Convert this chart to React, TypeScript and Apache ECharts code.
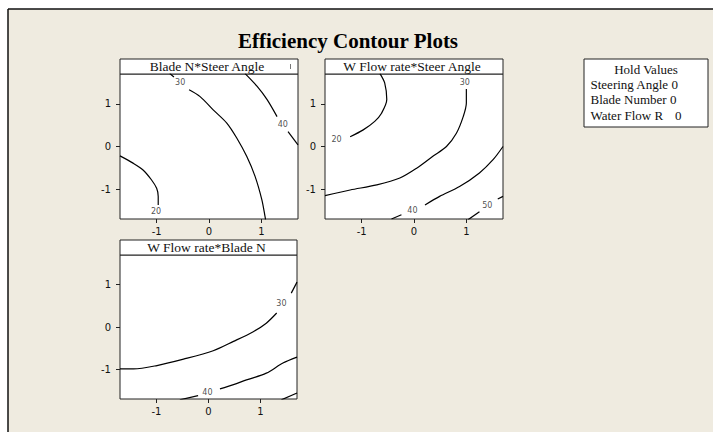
import React, { useEffect, useRef } from "react";
import * as echarts from "echarts";

// ---- Data (coded factor levels) ----
const tickValues = [-1, 0, 1];
const axisMin = -1.7;
const axisMax = 1.7;

const panelTitles = ["Blade N*Steer Angle", "W Flow rate*Steer Angle", "W Flow rate*Blade N"];

// Panel 1: Blade N (y) vs Steer Angle (x)
const p1Contour20 = [[-1.7, -0.22], [-1.45, -0.39], [-1.26, -0.55], [-1.1, -0.78], [-1.0, -0.98], [-0.97, -1.17], [-0.97, -1.37]];
const p1Contour30a = [[-0.75, 1.71], [-0.67, 1.63]];
const p1Contour30b = [[-0.38, 1.33], [-0.17, 1.17], [0.08, 0.86], [0.34, 0.55], [0.53, 0.2], [0.72, -0.23], [0.88, -0.7], [1.01, -1.25], [1.07, -1.64], [1.08, -1.72]];
const p1Contour40a = [[0.69, 1.71], [0.92, 1.41], [1.11, 1.1], [1.3, 0.7]];
const p1Contour40b = [[1.51, 0.35], [1.7, 0.04]];
const p1Labels: [string, number, number][] = [["20", -1.01, -1.53], ["30", -0.55, 1.49], ["40", 1.41, 0.51]];

// Panel 2: W Flow rate (y) vs Steer Angle (x)
const p2Contour20 = [[-0.65, 1.71], [-0.56, 1.49], [-0.52, 1.1], [-0.62, 0.78], [-0.75, 0.59], [-0.97, 0.39], [-1.22, 0.23]];
const p2Contour30 = [[1.0, 1.35], [1.0, 1.02], [0.94, 0.7], [0.81, 0.31], [0.62, 0.0], [0.36, -0.23], [0.05, -0.51], [-0.27, -0.74], [-0.71, -0.9], [-1.22, -1.02], [-1.7, -1.15]];
const p2Contour40a = [[1.7, 0.0], [1.51, -0.31], [1.25, -0.62], [0.87, -0.94], [0.49, -1.17], [0.21, -1.37]];
const p2Contour40b = [[-0.24, -1.6], [-0.43, -1.7]];
const p2Contour50a = [[1.7, -1.17], [1.6, -1.23]];
const p2Contour50b = [[1.25, -1.53], [1.03, -1.72]];
const p2Labels: [string, number, number][] = [["20", -1.48, 0.17], ["30", 0.97, 1.51], ["40", -0.03, -1.51], ["50", 1.4, -1.38]];

// Panel 3: W Flow rate (y) vs Blade N (x)
const p3Contour30a = [[1.7, 1.06], [1.59, 0.8]];
const p3Contour30b = [[1.31, 0.33], [1.11, 0.09], [0.86, -0.11], [0.48, -0.34], [0.09, -0.56], [-0.48, -0.76], [-0.99, -0.91], [-1.44, -0.99], [-1.7, -0.99]];
const p3Contour40a = [[1.7, -0.71], [1.43, -0.85], [1.11, -1.09], [0.73, -1.25], [0.48, -1.36], [0.22, -1.46]];
const p3Contour40b = [[-0.2, -1.62], [-0.55, -1.72]];
const p3Contour50 = [[1.7, -1.56], [1.4, -1.72]];
const p3Labels: [string, number, number][] = [["30", 1.4, 0.55], ["40", -0.02, -1.54]];

const holdTitle = "Hold Values";
const holdLines = ["Steering Angle 0", "Blade Number 0", "Water Flow R"];
const holdLastValue = "0";

const panelSegments = [
  [p1Contour20, p1Contour30a, p1Contour30b, p1Contour40a, p1Contour40b],
  [p2Contour20, p2Contour30, p2Contour40a, p2Contour40b, p2Contour50a, p2Contour50b],
  [p3Contour30a, p3Contour30b, p3Contour40a, p3Contour40b, p3Contour50],
];
const panelLabels = [p1Labels, p2Labels, p3Labels];

// ---- Layout ----
const grids = [
  { left: 120, top: 74, width: 178, height: 145 },
  { left: 325, top: 74, width: 178, height: 145 },
  { left: 120, top: 255, width: 177, height: 144 },
];
const HEADER_H = 15;
const SERIF = "'Liberation Serif', 'Times New Roman', serif";
const SANS = "'DejaVu Sans', Verdana, sans-serif";

export default function App() {
  const ref = useRef<HTMLDivElement>(null);

  useEffect(() => {
    if (!ref.current) return;
    const chart = echarts.init(ref.current, undefined, { renderer: "svg" });

    const axisCommon = {
      type: "value",
      min: axisMin,
      max: axisMax,
      splitLine: { show: false },
      axisLine: { show: false, onZero: false },
      axisTick: { show: true, length: 4, customValues: tickValues, lineStyle: { color: "#222", width: 1 } },
    };

    const xAxes = grids.map((_, i) => ({
      ...axisCommon,
      gridIndex: i,
      position: "bottom",
      axisLabel: { customValues: tickValues, margin: 7, fontFamily: SANS, fontSize: 10, color: "#111" },
    }));
    const yAxes = grids.map((_, i) => ({
      ...axisCommon,
      gridIndex: i,
      position: "left",
      axisLabel: { customValues: tickValues, margin: 9, fontFamily: SANS, fontSize: 10, color: "#111" },
    }));

    const series: any[] = [];
    panelSegments.forEach((segs, i) => {
      segs.forEach((seg) => {
        series.push({
          type: "line",
          xAxisIndex: i,
          yAxisIndex: i,
          data: seg,
          smooth: 0.3,
          symbol: "none",
          clip: true,
          silent: true,
          lineStyle: { color: "#000", width: 1.2 },
        });
      });
      series.push({
        type: "scatter",
        xAxisIndex: i,
        yAxisIndex: i,
        symbolSize: 1,
        itemStyle: { color: "rgba(0,0,0,0)" },
        silent: true,
        data: panelLabels[i].map(([n, x, y]) => ({ name: n, value: [x, y] })),
        label: {
          show: true,
          position: "inside",
          formatter: "{b}",
          fontFamily: SANS,
          fontSize: 8,
          color: "#222",
        },
      });
    });

    const graphics: any[] = [
      { type: "rect", shape: { x: 0, y: 0, width: 713, height: 9 }, style: { fill: "#fff" }, silent: true },
      { type: "rect", shape: { x: 0, y: 0, width: 8, height: 432 }, style: { fill: "#fff" }, silent: true },
      { type: "line", shape: { x1: 8, y1: 9, x2: 713, y2: 9 }, style: { stroke: "#111", lineWidth: 1.5 }, silent: true },
      { type: "line", shape: { x1: 8, y1: 9, x2: 8, y2: 432 }, style: { stroke: "#111", lineWidth: 1.5 }, silent: true },
      {
        type: "text",
        x: 348,
        y: 41,
        style: {
          text: "Efficiency Contour Plots",
          fontFamily: SERIF,
          fontSize: 21,
          fontWeight: "bold",
          fill: "#000",
          textAlign: "center",
          textVerticalAlign: "middle",
        },
        silent: true,
      },
    ];

    grids.forEach((g, i) => {
      graphics.push({
        type: "rect",
        shape: { x: g.left, y: g.top - HEADER_H, width: g.width, height: HEADER_H },
        style: { fill: "#fff", stroke: "#222", lineWidth: 1 },
        silent: true,
      });
      graphics.push({
        type: "text",
        x: g.left + g.width / 2 - 2,
        y: g.top - HEADER_H / 2,
        style: {
          text: panelTitles[i],
          fontFamily: SERIF,
          fontSize: 13.5,
          fill: "#111",
          textAlign: "center",
          textVerticalAlign: "middle",
        },
        silent: true,
      });
    });
    // small mark inside first header
    graphics.push({ type: "line", shape: { x1: 290.5, y1: 64, x2: 290.5, y2: 69 }, style: { stroke: "#777", lineWidth: 1 }, silent: true });

    // Hold values box
    graphics.push({
      type: "rect",
      shape: { x: 584, y: 59, width: 124, height: 68 },
      style: { fill: "#fff", stroke: "#222", lineWidth: 1 },
      silent: true,
    });
    graphics.push({
      type: "text",
      x: 646,
      y: 69,
      style: { text: holdTitle, fontFamily: SERIF, fontSize: 13, fill: "#111", textAlign: "center", textVerticalAlign: "middle" },
      silent: true,
    });
    holdLines.forEach((t, k) => {
      graphics.push({
        type: "text",
        x: 590.5,
        y: 84 + k * 15.5,
        style: { text: t, fontFamily: SERIF, fontSize: 13, fill: "#111", textAlign: "left", textVerticalAlign: "middle" },
        silent: true,
      });
    });
    graphics.push({
      type: "text",
      x: 675,
      y: 84 + 2 * 15.5,
      style: { text: holdLastValue, fontFamily: SERIF, fontSize: 13, fill: "#111", textAlign: "left", textVerticalAlign: "middle" },
      silent: true,
    });

    chart.setOption({
      animation: false,
      backgroundColor: "#EFEBE0",
      grid: grids.map((g) => ({ ...g, show: true, backgroundColor: "#fff", borderColor: "#222", borderWidth: 1, containLabel: false })),
      xAxis: xAxes,
      yAxis: yAxes,
      series,
      graphic: { elements: graphics },
    });

    return () => chart.dispose();
  }, []);

  return <div ref={ref} style={{ position: "absolute", left: 0, top: 0, width: 713, height: 432 }} />;
}
